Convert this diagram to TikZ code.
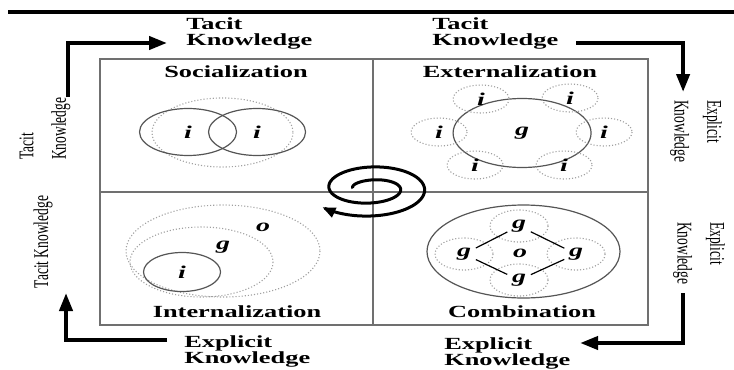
\documentclass[tikz,border=0pt]{standalone}
\usepackage{fontspec}
\setmainfont{Liberation Serif}
\usetikzlibrary{arrows.meta}
\definecolor{boxgray}{HTML}{707070}
\definecolor{ringgray}{HTML}{555555}
\definecolor{dotgray}{HTML}{A0A0A0}
\tikzset{
  quadtitle/.style={font=\fontsize{17}{17}\selectfont\bfseries, inner sep=0pt},
  flowlabel/.style={font=\fontsize{17}{16}\selectfont\bfseries, align=left, inner sep=0pt},
  sidelabel/.style={font=\fontsize{13.5}{21}\selectfont, align=left, inner sep=0pt},
  agent/.style={font=\fontsize{18}{18}\selectfont\bfseries\itshape, inner sep=0pt},
  ring/.style={draw=ringgray, line width=1.2pt},
  halo/.style={draw=dotgray, dotted, line width=1.1pt},
  link/.style={draw=black, line width=1.2pt, shorten <=5pt, shorten >=5pt},
  bigarrow/.style={line width=4pt, -{Triangle[length=18pt,width=13pt]}},
  spiralarrow/.style={line width=3pt, -{Triangle[length=13pt,width=10pt]}}
}
\begin{document}
\begin{tikzpicture}[x=0.64516pt, y=-1pt, xscale=1.55,
  every node/.append style={transform shape}]
\useasboundingbox (0,0) rectangle (734,369);

% top rule
\draw[line width=3.5pt] (8,12) -- (734,12);

% the four quadrants
\draw[boxgray, line width=1.5pt] (100,59) rectangle (648,325);
\draw[boxgray, line width=1.5pt] (373,59) -- (373,325);
\draw[boxgray, line width=1.5pt] (100,192) -- (648,192);

\node[quadtitle] (soc)  at (236,72)  {Socialization};
\node[quadtitle] (ext)  at (510,72)  {Externalization};
\node[quadtitle] (int)  at (237,312) {Internalization};
\node[quadtitle] (comb) at (522,312) {Combination};

% socialization
\node[agent] (si1) at (188,132) {i};
\node[agent] (si2) at (257,132) {i};
\draw[halo] (222.5,132.5) ellipse [x radius=70.5, y radius=34.5];
\draw[ring] (si1) ellipse [x radius=48.5, y radius=23.5];
\draw[ring] (si2) ellipse [x radius=48.5, y radius=23.5];

% externalization
\node[agent] (eg) at (522,133) {g};
\draw[ring] (eg) ellipse [x radius=69, y radius=34.5];
\foreach \n/\px/\py in {1/481/99, 2/570/98, 3/439/132, 4/604/132, 5/475/165, 6/564/165} {
  \node[agent] (ei\n) at (\px,\py) {i};
  \draw[halo] (ei\n) ellipse [x radius=28, y radius=14];
}

% internalization
\node[agent] (io) at (263,227) {o};
\node[agent] (ig) at (223,247) {g};
\node[agent] (ii) at (182,272) {i};
\draw[halo] (223,251) ellipse [x radius=97, y radius=46];
\draw[halo] (201.5,262) ellipse [x radius=71.5, y radius=35];
\draw[ring] (ii) ellipse [x radius=38.5, y radius=19.5];

% combination
\node[agent] (co) at (520,253) {o};
\node[agent] (cg1) at (519,226) {g};
\node[agent] (cg2) at (464,254) {g};
\node[agent] (cg3) at (576,254) {g};
\node[agent] (cg4) at (519,280) {g};
\draw[ring] (523.5,251.5) ellipse [x radius=96.5, y radius=46.5];
\foreach \n in {1,...,4}
  \draw[halo] (cg\n) ellipse [x radius=29, y radius=16];
\draw[link] (cg2) -- (cg1);
\draw[link] (cg1) -- (cg3);
\draw[link] (cg2) -- (cg4);
\draw[link] (cg4) -- (cg3);

% spiral in the middle
\draw[spiralarrow] plot[domain=0:680, samples=220, variable=\s]
  ({370.75+(17.75+12*\s/180)*cos(180-\s)}, {188.25-(5+6.5*\s/180)*sin(180-\s)});

% outer labels
\node[flowlabel, anchor=west] (tacitA)    at (186,33)  {Tacit\\Knowledge};
\node[flowlabel, anchor=west] (tacitB)    at (432,33)  {Tacit\\Knowledge};
\node[flowlabel, anchor=west] (explicitA) at (184,351) {Explicit\\Knowledge};
\node[flowlabel, anchor=west] (explicitB) at (444,353) {Explicit\\Knowledge};
\node[sidelabel, rotate=90, anchor=west]  (tacitC)    at (45,160)  {Tacit\\Knowledge};
\node[sidelabel, rotate=90]               (tacitD)    at (43,242)  {Tacit Knowledge};
\node[sidelabel, rotate=-90, anchor=west] (explicitC) at (696,100) {Explicit\\Knowledge};
\node[sidelabel, rotate=-90, anchor=west] (explicitD) at (699,222) {Explicit\\Knowledge};

% flow arrows
\coordinate (tlS) at (68,97);   \coordinate (tlE) at (167,43);
\coordinate (trS) at (576,43);  \coordinate (trE) at (683,92);
\coordinate (brS) at (683,293); \coordinate (brE) at (580,343);
\coordinate (blS) at (167,340); \coordinate (blE) at (66,293);
\draw[bigarrow] (tlS) |- (tlE);
\draw[bigarrow] (trS) -| (trE);
\draw[bigarrow] (brS) |- (brE);
\draw[bigarrow] (blS) -| (blE);

\end{tikzpicture}
\end{document}
